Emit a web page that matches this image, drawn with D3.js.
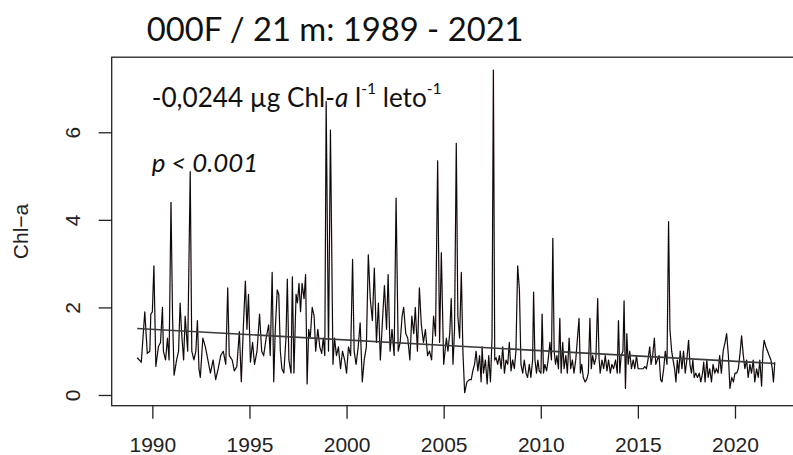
<!DOCTYPE html>
<html>
<head>
<meta charset="utf-8">
<script src="https://cdn.jsdelivr.net/npm/d3@7"></script>
<style>
  html, body { margin: 0; padding: 0; background: #fff; }
  svg { display: block; }
</style>
</head>
<body>
<svg id="chart" width="793" height="455"></svg>
<script>
// Monthly chlorophyll-a at station 000F, 21 m depth (decimal year, µg/l)
const sampleYear = [
  1989.22, 1989.43, 1989.61, 1989.74, 1989.87, 1989.92,
  1990.00, 1990.08, 1990.18, 1990.31, 1990.42, 1990.52, 1990.57, 1990.68, 1990.78, 1990.86, 1990.96,
  1991.04, 1991.12, 1991.25, 1991.35, 1991.43, 1991.51, 1991.61, 1991.69, 1991.82, 1991.95,
  1992.03, 1992.14, 1992.24, 1992.32, 1992.40, 1992.47, 1992.60, 1992.73, 1992.86, 1992.99,
  1993.13, 1993.26, 1993.39, 1993.52, 1993.65, 1993.78, 1993.88, 1993.96,
  1994.11, 1994.22, 1994.35, 1994.48, 1994.58, 1994.69, 1994.79, 1994.87, 1994.95,
  1995.05, 1995.16, 1995.26, 1995.39, 1995.52, 1995.63, 1995.73, 1995.86, 1995.99,
  1996.07, 1996.17, 1996.25, 1996.33, 1996.43, 1996.51, 1996.59, 1996.67, 1996.77, 1996.88, 1996.95,
  1997.03, 1997.14, 1997.21, 1997.29, 1997.40, 1997.47, 1997.55, 1997.63, 1997.71, 1997.81, 1997.89, 1997.97,
  1998.05, 1998.13, 1998.23, 1998.33, 1998.41, 1998.52, 1998.62, 1998.72, 1998.80, 1998.88, 1998.95,
  1999.07, 1999.17, 1999.30, 1999.38, 1999.48, 1999.58, 1999.69, 1999.79, 1999.90,
  2000.00, 2000.10, 2000.21, 2000.31, 2000.39, 2000.49, 2000.60, 2000.70, 2000.81, 2000.91,
  2001.02, 2001.12, 2001.22, 2001.33, 2001.43, 2001.54, 2001.64, 2001.74, 2001.85, 2001.95,
  2002.06, 2002.14, 2002.24, 2002.34, 2002.45, 2002.55, 2002.66, 2002.76, 2002.86, 2002.94,
  2003.05, 2003.15, 2003.26, 2003.36, 2003.46, 2003.54, 2003.65, 2003.75, 2003.85, 2003.96,
  2004.06, 2004.17, 2004.27, 2004.38, 2004.48, 2004.58, 2004.69, 2004.79, 2004.88,
  2005.00, 2005.14, 2005.22, 2005.31, 2005.39, 2005.48, 2005.56, 2005.65, 2005.73, 2005.82, 2005.91, 2005.99,
  2006.08, 2006.20, 2006.33, 2006.42, 2006.50, 2006.59, 2006.67, 2006.76, 2006.85, 2006.93, 2006.98,
  2007.05, 2007.15, 2007.24, 2007.32, 2007.41, 2007.49, 2007.56, 2007.63, 2007.70, 2007.78, 2007.87, 2007.96,
  2008.04, 2008.13, 2008.21, 2008.30, 2008.38, 2008.47, 2008.55, 2008.64, 2008.72, 2008.81, 2008.90, 2008.98,
  2009.07, 2009.15, 2009.24, 2009.32, 2009.41, 2009.49, 2009.58, 2009.63, 2009.70, 2009.78, 2009.85, 2009.92,
  2010.01, 2010.07, 2010.14, 2010.21, 2010.30, 2010.38, 2010.47, 2010.55, 2010.62, 2010.69, 2010.76, 2010.83, 2010.91, 2010.98,
  2011.05, 2011.13, 2011.20, 2011.29, 2011.37, 2011.46, 2011.54, 2011.63, 2011.71, 2011.80, 2011.89, 2011.97,
  2012.04, 2012.11, 2012.19, 2012.28, 2012.36, 2012.45, 2012.53, 2012.60, 2012.67, 2012.76, 2012.84, 2012.93,
  2013.00, 2013.06, 2013.15, 2013.24, 2013.32, 2013.41, 2013.49, 2013.58, 2013.66, 2013.75, 2013.85, 2013.94,
  2014.00, 2014.07, 2014.14, 2014.23, 2014.29, 2014.36, 2014.43, 2014.50, 2014.58, 2014.67, 2014.76, 2014.84, 2014.93,
  2015.01, 2015.10, 2015.18, 2015.27, 2015.35, 2015.44, 2015.52, 2015.61, 2015.68, 2015.76, 2015.85, 2015.92,
  2016.00, 2016.09, 2016.17, 2016.24, 2016.33, 2016.41, 2016.50, 2016.58, 2016.65, 2016.74, 2016.81, 2016.89, 2016.96,
  2017.03, 2017.10, 2017.18, 2017.27, 2017.35, 2017.44, 2017.52, 2017.61, 2017.68, 2017.76, 2017.83, 2017.90, 2017.98,
  2018.07, 2018.16, 2018.24, 2018.33, 2018.39, 2018.46, 2018.55, 2018.62, 2018.70, 2018.79, 2018.87, 2018.96,
  2019.04, 2019.13, 2019.21, 2019.30, 2019.39, 2019.49, 2019.57, 2019.66, 2019.74, 2019.83, 2019.92,
  2020.00, 2020.09, 2020.17, 2020.26, 2020.34, 2020.43, 2020.51, 2020.60, 2020.68, 2020.77, 2020.85, 2020.94,
  2021.02, 2021.11, 2021.20, 2021.28, 2021.37, 2021.44, 2021.50, 2021.59, 2021.68, 2021.76, 2021.85, 2021.92, 2021.98, 2022.05
];

const chlA = [
  0.85, 0.75, 1.90, 0.95, 1.00, 1.85,
  1.90, 2.95, 0.65, 1.10, 1.20, 2.00, 1.00, 0.80, 1.30, 0.80, 4.40,
  1.80, 0.45, 0.80, 1.00, 2.10, 1.40, 0.80, 1.80, 1.00, 5.10,
  1.00, 0.80, 1.00, 1.70, 0.60, 0.40, 1.30, 1.10, 0.80, 0.50,
  0.80, 0.35, 0.60, 0.90, 1.00, 0.70, 2.45, 0.90,
  0.80, 0.55, 0.65, 1.45, 0.30, 1.60, 2.60, 1.50, 2.30,
  0.75, 1.20, 0.70, 1.00, 1.85, 1.00, 0.90, 1.30, 1.60,
  0.90, 2.80, 0.30, 1.50, 2.40, 2.30, 1.00, 0.60, 0.50, 1.30, 2.65,
  0.80, 0.50, 2.70, 0.50, 2.30, 2.10, 2.55, 1.90, 2.55, 2.20, 2.75, 0.25,
  1.50, 1.30, 2.00, 1.80, 1.00, 1.50, 1.10, 0.95, 1.30, 0.90, 6.70,
  1.00, 6.05, 0.70, 1.30, 0.90, 1.10, 0.60, 1.00, 0.80,
  0.50, 1.10, 0.90, 3.10, 1.00, 0.70, 1.10, 1.65, 0.30, 0.80,
  1.10, 3.20, 2.20, 1.70, 2.90, 1.20, 2.10, 0.80, 1.70, 2.50,
  1.50, 2.75, 1.00, 1.50, 0.90, 4.50, 1.00, 1.20, 1.80, 2.00,
  1.40, 1.30, 0.80, 1.80, 1.40, 2.00, 1.00, 2.45, 1.60, 1.20,
  1.50, 0.90, 1.00, 0.80, 1.80, 1.35, 5.35, 1.20, 3.25,
  0.70, 1.30, 1.00, 1.40, 2.20, 0.70, 1.50, 5.75, 1.80, 1.30, 2.80, 1.00,
  0.05, 0.30, 0.35, 0.35, 0.55, 0.70, 1.00, 0.55, 0.90, 0.30, 1.10,
  0.50, 0.80, 0.25, 0.90, 0.30, 1.30, 7.42, 0.80, 0.85, 0.70, 0.90, 0.60,
  1.10, 0.50, 0.80, 0.70, 1.20, 0.55, 0.80, 0.60, 1.00, 2.95, 2.40, 0.70,
  0.50, 0.80, 0.50, 0.40, 0.70, 0.40, 0.80, 2.35, 0.80, 0.50, 0.80, 0.55,
  0.50, 1.85, 0.50, 0.70, 0.55, 0.80, 1.20, 0.80, 3.58, 1.00, 0.70, 0.90, 0.60, 1.75,
  0.50, 1.20, 0.60, 0.90, 0.50, 1.30, 0.60, 0.80, 0.50, 0.80, 1.30, 1.75,
  0.50, 0.70, 0.40, 0.30, 0.35, 0.50, 1.75, 0.60, 0.90, 0.70, 0.85, 2.20,
  0.85, 0.50, 0.80, 0.60, 0.90, 0.55, 0.80, 0.50, 0.70, 0.60, 0.80, 0.50,
  1.70, 0.50, 0.90, 1.00, 2.15, 0.15, 1.40, 0.70, 1.00, 0.60, 0.80, 0.60, 0.90,
  0.60, 0.60, 0.60, 0.60, 0.65, 0.60, 0.80, 1.10, 0.70, 0.90, 1.30, 0.70,
  0.80, 0.90, 0.35, 0.30, 0.60, 1.00, 0.70, 3.96, 1.50, 1.00, 0.80, 0.60, 0.30,
  0.80, 0.50, 1.00, 0.60, 1.00, 0.50, 0.80, 1.25, 0.70, 0.50, 0.80, 0.40, 0.50,
  0.40, 0.50, 0.30, 0.50, 0.75, 0.30, 0.80, 0.40, 0.60, 0.30, 0.70, 0.50,
  0.60, 0.50, 0.90, 0.50, 1.00, 1.20, 1.40, 0.90, 0.15, 0.40, 0.30,
  0.50, 0.50, 0.60, 0.95, 1.35, 0.90, 0.60, 0.80, 0.40, 0.70, 0.50, 0.80,
  0.30, 0.60, 0.40, 0.80, 0.20, 1.00, 1.25, 1.10, 1.00, 0.90, 0.80, 0.60, 0.30, 0.75
];

// Linear trend: slope per year and fitted value at the first sample
const trendSlope = -0.0244;
const trendStart = 1.52;

const xTickValues = [1990, 1995, 2000, 2005, 2010, 2015, 2020];
const yTickValues = [0, 2, 4, 6];

const titleText = "000F / 21 m: 1989 - 2021";
const yAxisTitle = "Chl\u2212a";

const data = sampleYear.map((t, i) => ({ t, v: chlA[i] }));

const svg = d3.select("#chart");

// Plot region with R-style 4 % padding around the data range
const plotLeft = 111.7, plotRight = 800.3, plotTop = 57.2, plotBottom = 405.7;
const [tMin, tMax] = d3.extent(sampleYear);
const [vMin, vMax] = d3.extent(chlA);
const tPad = (tMax - tMin) * 0.04, vPad = (vMax - vMin) * 0.04;

const x = d3.scaleLinear().domain([tMin - tPad, tMax + tPad]).range([plotLeft, plotRight]);
const y = d3.scaleLinear().domain([vMin - vPad, vMax + vPad]).range([plotBottom, plotTop]);

const axisFont = "'Liberation Sans', Arial, Helvetica, sans-serif";
const noteFont = "Lato, 'Open Sans', sans-serif";

// Frame
svg.append("rect")
  .attr("x", plotLeft).attr("y", plotTop)
  .attr("width", plotRight - plotLeft).attr("height", plotBottom - plotTop)
  .attr("fill", "none").attr("stroke", "#222").attr("stroke-width", 1.3);

// Series: faint red dotted trace under the black line
const line = d3.line().x(d => x(d.t)).y(d => y(d.v));
svg.append("path").datum(data)
  .attr("d", line)
  .attr("fill", "none")
  .attr("stroke", "#e07a7a")
  .attr("stroke-width", 1.6)
  .attr("stroke-dasharray", "1,1.5")
  .attr("opacity", 0.5);
svg.append("path").datum(data)
  .attr("d", line)
  .attr("fill", "none")
  .attr("stroke", "#0a0a0a")
  .attr("stroke-width", 1.15)
  .attr("stroke-linejoin", "round");

// Trend line across the sampled period
const trend = [
  { t: tMin, v: trendStart },
  { t: tMax, v: trendStart + trendSlope * (tMax - tMin) }
];
svg.append("path").datum(trend)
  .attr("d", line)
  .attr("fill", "none")
  .attr("stroke", "#3a3a3a")
  .attr("stroke-width", 1.6);

// X axis
const xAxis = d3.axisBottom(x).tickValues(xTickValues).tickSize(13).tickFormat(d3.format("d"));
const gx = svg.append("g").attr("transform", `translate(0,${plotBottom})`).call(xAxis);
gx.select(".domain").remove();
gx.selectAll(".tick line").attr("stroke", "#222").attr("stroke-width", 1.3);
gx.selectAll(".tick text")
  .attr("y", 46).attr("dy", null)
  .attr("fill", "#222")
  .style("font-family", axisFont).style("font-size", "21px");

// Y axis with labels parallel to the axis
const yAxis = d3.axisLeft(y).tickValues(yTickValues).tickSize(13);
const gy = svg.append("g").attr("transform", `translate(${plotLeft},0)`).call(yAxis);
gy.select(".domain").remove();
gy.selectAll(".tick line").attr("stroke", "#222").attr("stroke-width", 1.3);
gy.selectAll(".tick text")
  .attr("x", null).attr("dy", null)
  .attr("text-anchor", "middle")
  .attr("transform", "translate(-32,0) rotate(-90)")
  .attr("fill", "#222")
  .style("font-family", axisFont).style("font-size", "21px");

// Y axis title
svg.append("text")
  .attr("transform", `translate(28,${(plotTop + plotBottom) / 2}) rotate(-90)`)
  .attr("text-anchor", "middle")
  .attr("fill", "#222")
  .style("font-family", axisFont).style("font-size", "21px")
  .text(yAxisTitle);

// Fit a text element to a target width
function fitWidth(sel, target) {
  const w = sel.node().getComputedTextLength();
  const fs = parseFloat(sel.style("font-size"));
  sel.style("font-size", (fs * target / w) + "px");
}

// Title
const title = svg.append("text")
  .attr("x", 146.7).attr("y", 41)
  .attr("fill", "#111")
  .style("font-family", noteFont).style("font-size", "32px")
  .text(titleText);
fitWidth(title, 377);

// Trend annotation
const note = svg.append("text")
  .attr("x", 151.7).attr("y", 107.3)
  .attr("fill", "#111")
  .style("font-family", noteFont).style("font-size", "28px");
note.append("tspan").text("-0,0244 µg Chl-");
note.append("tspan").style("font-style", "italic").text("a");
note.append("tspan").text(" l");
note.append("tspan").attr("dy", -13).style("font-size", "0.6em").text("-1");
note.append("tspan").attr("dy", 13).text(" leto");
note.append("tspan").attr("dy", -13).style("font-size", "0.6em").text("-1");
fitWidth(note, 290);

const pNote = svg.append("text")
  .attr("x", 151.7).attr("y", 172.3)
  .attr("fill", "#111")
  .style("font-family", noteFont).style("font-size", "28px")
  .style("font-style", "italic")
  .text("p < 0.001");
fitWidth(pNote, 106.6);
</script>
</body>
</html>
